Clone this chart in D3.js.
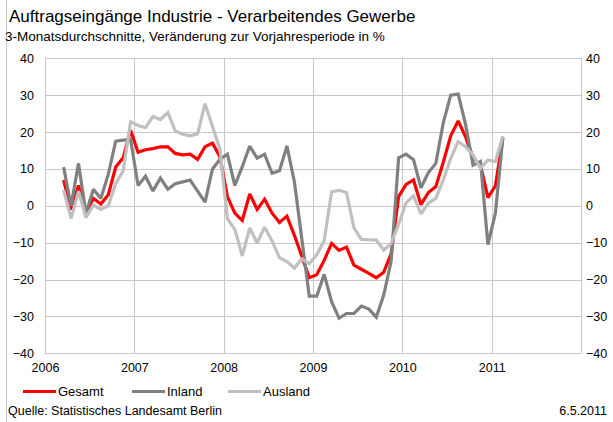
<!DOCTYPE html>
<html><head><meta charset="utf-8">
<script src="https://cdn.jsdelivr.net/npm/d3@7/dist/d3.min.js"></script>
<style>
body{margin:0;background:#fff;}
svg{display:block;font-family:"Liberation Sans",Arial,sans-serif;}
</style></head>
<body>
<svg id="chart" width="613" height="422"></svg>
<script>
// Monthly 3-month averages, Mar 2006 .. Feb 2011
const startYear = 2006, startMonth = 2; // March (0-based)
const gesamt = [
  7, -1, 5.5, -2, 2, 0.5, 3, 10.5, 13, 20.5,
  14.5, 15.2, 15.5, 16, 16, 14.2, 13.8, 14, 12.6, 16, 17, 13.3,
  2.5, -2, -4, 3.2, -1, 1.8, -2, -4.5, -2.8, -8, -13.7, -19.5,
  -18.7, -14.8, -10.2, -12.1, -11.2, -16.1, -17.2, -18.3, -19.5, -18, -13, 2.5,
  5.8, 7, 0.3, 3.6, 5.2, 11.8, 19, 23, 18.7, 13, 11, 2.2,
  5.4, 18.3
];
const inland = [
  10.5, 0, 11.5, -2, 4.5, 2, 8.5, 17.5, 17.8, 18,
  5.5, 8, 4, 7.5, 4.5, 6, 6.5, 7, 4, 1, 10, 12.6,
  14, 5.5, 10.6, 16.2, 12.9, 14, 8.8, 9.5, 16.2, 6.5, -9, -24.5,
  -24.5, -18.6, -26, -30.5, -29.2, -29.2, -27.2, -28, -30.2, -24.2, -15, 13,
  14, 12.5, 4.9, 9, 11.5, 22.5, 30, 30.3, 22, 11, 12, -10.5,
  -2, 18.5
];
const ausland = [
  4.3, -3.5, 4, -3.2, 0.2, -1, 0, 6, 9.5, 22.8,
  21.8, 21.2, 24.2, 23.4, 25.3, 20.3, 19.4, 19, 19.5, 27.7, 21.5, 15.3,
  -3.5, -6.4, -13.6, -6, -10.1, -5.8, -9.5, -14.1, -15.1, -16.9, -14.4, -15.7,
  -13.3, -9.5, 3.8, 4.2, 3.6, -6, -9.1, -9.2, -9.3, -12, -10.2, -5,
  0.8, 2.7, -2.2, 0.7, 2, 7, 12.9, 17.4, 16, 13.8, 10.2, 12.4,
  12, 18.9
];
const yearTicks = [2006, 2007, 2008, 2009, 2010, 2011];
const yTicks = [-40, -30, -20, -10, 0, 10, 20, 30, 40];
const seriesNames = ["Gesamt", "Inland", "Ausland"];
const seriesColors = ["#ff0000", "#808080", "#c0c0c0"];
const title = "Auftragseingänge Industrie - Verarbeitendes Gewerbe";
const subtitle = "3-Monatsdurchschnitte, Veränderung zur Vorjahresperiode in %";
const source = "Quelle: Statistisches Landesamt Berlin";
const dateText = "6.5.2011";

const svg = d3.select("#chart");
const L = 45, R = 581, T = 58.3, B = 353.3;
const x = d3.scaleLinear().domain([2006, 2012]).range([L, R]);
const y = d3.scaleLinear().domain([-40, 40]).range([B, T]);
const gridColor = "#c8c8c8";
const ff = "Liberation Sans, Arial, sans-serif";

// outer border line at left
svg.append("line").attr("x1", 6.5).attr("x2", 6.5).attr("y1", 0).attr("y2", 422)
  .attr("stroke", "#c8c8c8").attr("stroke-width", 1);

// texts
svg.append("text").attr("x", 9).attr("y", 22).attr("font-size", 17).attr("fill", "#000").text(title);
svg.append("text").attr("x", 5).attr("y", 41).attr("font-size", 13.5).attr("fill", "#000").text(subtitle);

// horizontal grid
svg.append("g").attr("transform", `translate(${L},0)`)
  .call(d3.axisLeft(y).tickValues(yTicks).tickSize(-(R - L)).tickFormat(""))
  .call(g => g.select(".domain").remove())
  .call(g => g.selectAll("line").attr("stroke", gridColor).attr("shape-rendering", "crispEdges"));
// vertical grid
svg.append("g").attr("transform", `translate(0,${B})`)
  .call(d3.axisBottom(x).tickValues(yearTicks.concat([2012])).tickSize(-(B - T)).tickFormat(""))
  .call(g => g.select(".domain").remove())
  .call(g => g.selectAll("line").attr("stroke", gridColor).attr("shape-rendering", "crispEdges"));

// left axis labels
svg.append("g").attr("transform", `translate(${L},0)`)
  .call(d3.axisLeft(y).tickValues(yTicks).tickSize(0).tickPadding(11).tickFormat(d3.format("d")))
  .call(g => g.select(".domain").remove())
  .call(g => g.selectAll("text").attr("font-size", 12.5).attr("fill", "#000").attr("font-family", ff));
// right axis labels
svg.append("g").attr("transform", `translate(${R},0)`)
  .call(d3.axisRight(y).tickValues(yTicks).tickSize(0).tickPadding(5).tickFormat(d3.format("d")))
  .call(g => g.select(".domain").remove())
  .call(g => g.selectAll("text").attr("font-size", 12.5).attr("fill", "#000").attr("font-family", ff));
// bottom year labels
svg.append("g").attr("transform", `translate(0,${B})`)
  .call(d3.axisBottom(x).tickValues(yearTicks).tickSize(0).tickPadding(10).tickFormat(d3.format("d")))
  .call(g => g.select(".domain").remove())
  .call(g => g.selectAll("text").attr("font-size", 12.5).attr("fill", "#000").attr("font-family", ff));

// lines
const xOf = i => startYear + (startMonth + i + 0.5) / 12;
const line = d3.line().x((d, i) => x(xOf(i))).y(d => y(d));
[gesamt, inland, ausland].forEach((s, k) => {
  svg.append("path").datum(s).attr("d", line).attr("fill", "none")
    .attr("stroke", seriesColors[k]).attr("stroke-width", 3.2)
    .attr("stroke-linejoin", "miter").attr("stroke-miterlimit", 2);
});

// legend
const legX = [23, 132, 228];
seriesNames.forEach((n, k) => {
  svg.append("line").attr("x1", legX[k]).attr("x2", legX[k] + 33).attr("y1", 391.5).attr("y2", 391.5)
    .attr("stroke", seriesColors[k]).attr("stroke-width", 3.2);
  svg.append("text").attr("x", legX[k] + 35).attr("y", 396).attr("font-size", 13).attr("fill", "#000").text(n);
});

svg.append("text").attr("x", 8).attr("y", 415).attr("font-size", 12.5).attr("fill", "#000").text(source);
svg.append("text").attr("x", 607).attr("y", 415).attr("text-anchor", "end").attr("font-size", 12.5).attr("fill", "#000").text(dateText);
</script>
</body></html>
